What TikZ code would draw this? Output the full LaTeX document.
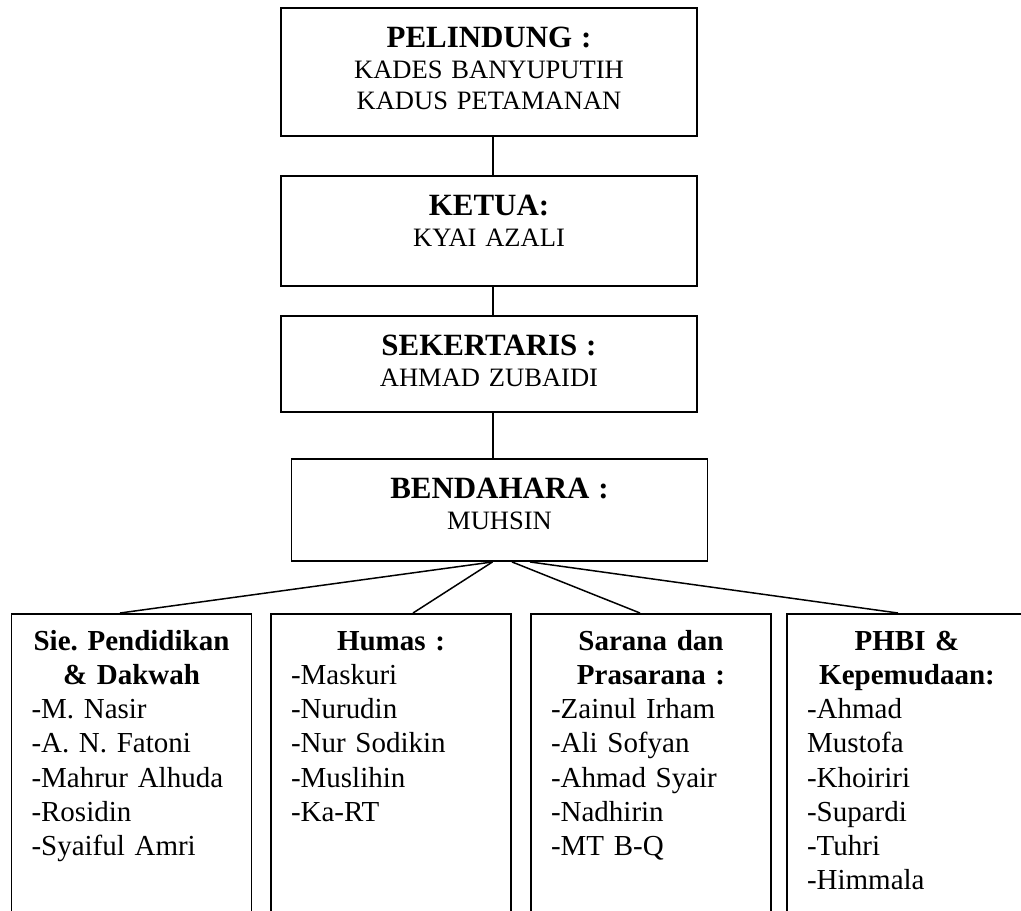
\documentclass[tikz,border=0pt]{standalone}
\usepackage{fontspec}
\setmainfont{Liberation Serif}
\frenchspacing
\newcommand{\headtitle}[1]{{\fontsize{17.6pt}{17.6pt}\selectfont\bfseries #1}}
\newcommand{\unittitle}[1]{\makebox[\linewidth]{\bfseries #1}}

\begin{document}
\begin{tikzpicture}[x=1cm,y=1cm,
  headbox/.style={draw, line width=1.1pt, anchor=north, align=center, text width=7.92cm, inner xsep=0.2cm, inner ysep=0.3cm, text height=0.5cm, font=\fontsize{15.1pt}{17.6pt}\selectfont},
  unitbox/.style={draw, line width=1.1pt, anchor=north, align=left, text width=4cm, inner xsep=0.4cm, inner ysep=0.32cm, text height=0.42cm, text depth=6cm, font=\fontsize{16.5pt}{19.35pt}\selectfont},
  link/.style={line width=0.85pt}]
\useasboundingbox (0,0) rectangle (20.42,-18.2);
\node[headbox, text depth=1.46cm] (pelindung) at (9.78,-0.14) {\headtitle{PELINDUNG :}\\KADES BANYUPUTIH\\KADUS PETAMANAN};
\node[headbox, text depth=1.1cm] (ketua) at (9.78,-3.5) {\headtitle{KETUA:}\\KYAI AZALI};
\node[headbox, text depth=0.82cm] (sekertaris) at (9.78,-6.3) {\headtitle{SEKERTARIS :}\\AHMAD ZUBAIDI};
\node[headbox, text depth=0.94cm] (bendahara) at (9.99,-9.16) {\headtitle{BENDAHARA :}\\MUHSIN};
\node[unitbox] (pendidikan) at (2.63,-12.26) {\unittitle{Sie. Pendidikan}\\\unittitle{\& Dakwah}\\-M. Nasir\\-A. N. Fatoni\\-Mahrur Alhuda\\-Rosidin\\-Syaiful Amri};
\node[unitbox] (humas) at (7.82,-12.26) {\unittitle{Humas :}\\-Maskuri\\-Nurudin\\-Nur Sodikin\\-Muslihin\\-Ka-RT};
\node[unitbox] (sarana) at (13.02,-12.26) {\unittitle{Sarana dan}\\\unittitle{Prasarana :}\\-Zainul Irham\\-Ali Sofyan\\-Ahmad Syair\\-Nadhirin\\-MT B-Q};
\node[unitbox] (phbi) at (18.14,-12.26) {\unittitle{PHBI \&}\\\unittitle{Kepemudaan:}\\-Ahmad\\Mustofa\\-Khoiriri\\-Supardi\\-Tuhri\\-Himmala};
\draw[link] ([xshift=0.08cm]pelindung.south) -- ([xshift=0.08cm]ketua.north);
\draw[link] ([xshift=0.08cm]ketua.south) -- ([xshift=0.08cm]sekertaris.north);
\draw[link] ([xshift=0.08cm]sekertaris.south) -- ([xshift=0.08cm]sekertaris.south |- bendahara.north);
\draw[link] ([xshift=-0.14cm]bendahara.south) -- ([xshift=-0.23cm]pendidikan.north);
\draw[link] ([xshift=-0.14cm]bendahara.south) -- ([xshift=0.44cm]humas.north);
\draw[link] ([xshift=0.25cm]bendahara.south) -- ([xshift=-0.22cm]sarana.north);
\draw[link] ([xshift=0.61cm]bendahara.south) -- ([xshift=-0.18cm]phbi.north);
\end{tikzpicture}
\end{document}
